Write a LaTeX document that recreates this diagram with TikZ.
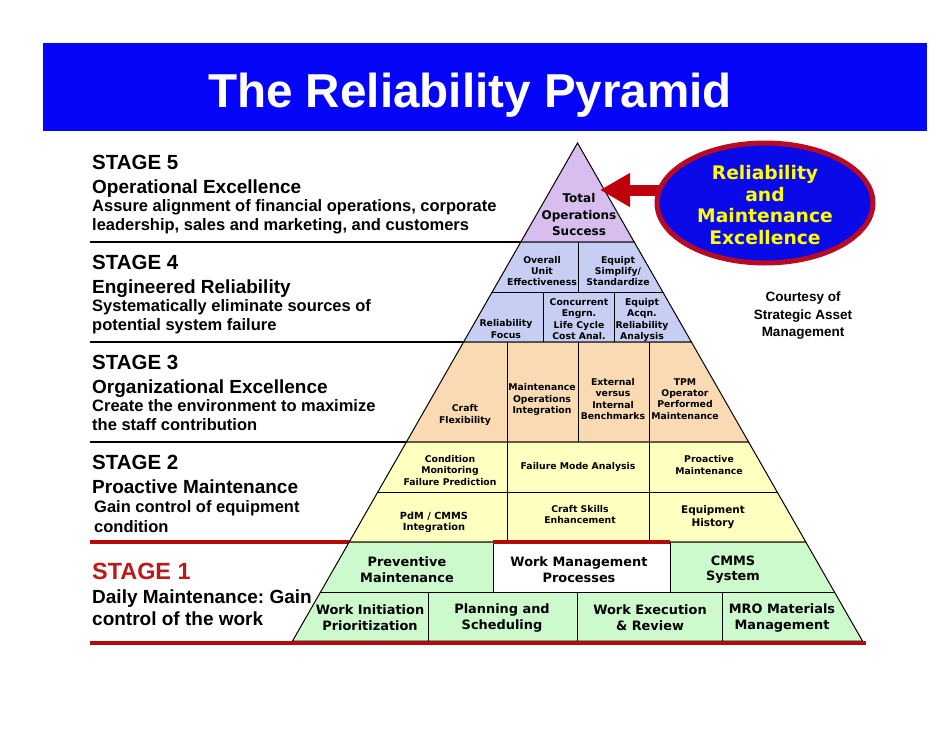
\documentclass[tikz,border=0pt]{standalone}
\usepackage{fontspec}
\setmainfont{Liberation Sans}
\newfontfamily\vfont{DejaVu Sans}
\usetikzlibrary{shapes.geometric,arrows.meta}
\frenchspacing
\definecolor{titleblue}{RGB}{5,5,250}
\definecolor{elblue}{RGB}{10,10,232}
\definecolor{elred}{RGB}{185,10,35}
\definecolor{arrred}{RGB}{190,0,10}
\definecolor{stred}{RGB}{190,25,25}
\definecolor{linered}{RGB}{180,10,10}
\definecolor{ctop}{RGB}{216,190,238}
\definecolor{cfour}{RGB}{198,206,244}
\definecolor{cthree}{RGB}{250,218,178}
\definecolor{ctwo}{RGB}{255,255,192}
\definecolor{cone}{RGB}{205,250,205}
\definecolor{elyellow}{RGB}{255,255,0}
\begin{document}
\begin{tikzpicture}[x=1pt,y=-1pt,
  stg/.style={anchor=base west, inner sep=0, font=\bfseries\fontsize{20.5}{24}\selectfont},
  sub/.style={anchor=base west, inner sep=0, font=\bfseries\fontsize{19}{22}\selectfont},
  desc/.style={anchor=base west, inner sep=0, font=\bfseries\fontsize{16.5}{19}\selectfont},
  cell/.style={align=center, inner sep=0, font=\vfont\bfseries\fontsize{9.3}{11.3}\selectfont},
  bigcell/.style={align=center, inner sep=0, font=\vfont\bfseries\fontsize{12.9}{15.8}\selectfont},
  pyline/.style={draw=black, line width=1pt},
  sepline/.style={draw=black, line width=1.3pt},
  redline/.style={draw=linered, line width=4pt}]
\useasboundingbox (0,0) rectangle (942,728);
\fill[white] (0,0) rectangle (942,728);

% title
\fill[titleblue] (43,43) rectangle (927,131);
\node[anchor=base, text=white, inner sep=0, font=\bfseries\fontsize{47.6}{50}\selectfont] (title) at (470,107) {The Reliability Pyramid};

% separator lines left
\draw[sepline] (90,242) -- (520.8,242);
\draw[sepline] (90,342) -- (463.6,342);
\draw[sepline] (90,442) -- (406.4,442);
\draw[redline] (90,542) -- (350,542);

% pyramid fills
\filldraw[pyline, fill=ctop] (577.5,143) -- (634.2,242) -- (520.8,242) -- cycle;
\filldraw[pyline, fill=cfour] (520.8,242) -- (634.2,242) -- (691.4,342) -- (463.6,342) -- cycle;
\filldraw[pyline, fill=cthree] (463.6,342) -- (691.4,342) -- (748.6,442) -- (406.4,442) -- cycle;
\filldraw[pyline, fill=ctwo] (406.4,442) -- (748.6,442) -- (805.8,542) -- (349.2,542) -- cycle;
\filldraw[pyline, fill=cone] (349.2,542) -- (805.8,542) -- (862.5,641) -- (292.5,641) -- cycle;
\filldraw[pyline, fill=white] (493,542) rectangle (670,592.5);

% row lines
\draw[pyline] (491.9,292.5) -- (663.1,292.5);
\draw[pyline] (377.8,492) -- (777.2,492);
\draw[pyline] (320.3,592.5) -- (834.7,592.5);
% vertical dividers
\draw[pyline] (578,242) -- (578,292.5);
\draw[pyline] (543,292.5) -- (543,342) (614,292.5) -- (614,342);
\draw[pyline] (507,342) -- (507,442) (578,342) -- (578,442) (649,342) -- (649,442);
\draw[pyline] (507,442) -- (507,542) (649,442) -- (649,542);
\draw[pyline] (428,592.5) -- (428,641) (577,592.5) -- (577,641) (722,592.5) -- (722,641);
\draw[redline] (493,542) -- (670,542);
\draw[redline] (90,643) -- (866,643);

% pyramid texts
\node[align=center, inner sep=0, font=\vfont\bfseries\fontsize{12}{16.5}\selectfont] (c5) at (579,215) {Total\\Operations\\Success};
\node[cell] (c41) at (542,271) {Overall\\Unit\\Effectiveness};
\node[cell] (c42) at (618,271) {Equipt\\Simplify/\\Standardize};
\node[cell] (c43) at (506,329) {Reliability\\Focus};
\node[cell] (c44) at (579,319) {Concurrent\\Engrn.\\Life Cycle\\Cost Anal.};
\node[cell] (c45) at (642,320) {Equipt\\Acqn.\\Reliability\\Analysis};
\node[cell] (c31) at (465,415) {Craft\\Flexibility};
\node[cell] (c32) at (542,399.5) {Maintenance\\Operations\\Integration};
\node[cell] (c33) at (613,399) {External\\versus\\Internal\\Benchmarks};
\node[cell] (c34) at (685,399) {TPM\\Operator\\Performed\\Maintenance};
\node[cell] (c21) at (450,470.5) {Condition\\Monitoring\\Failure Prediction};
\node[cell] (c22) at (578,467) {Failure Mode Analysis};
\node[cell] (c23) at (709,465) {Proactive\\Maintenance};
\node[cell, font=\vfont\bfseries\fontsize{9.8}{11.5}\selectfont] (c24) at (434,522.5) {PdM / CMMS\\Integration};
\node[cell] (c25) at (580,514.5) {Craft Skills\\Enhancement};
\node[cell, font=\vfont\bfseries\fontsize{10.5}{12.5}\selectfont] (c26) at (713,517) {Equipment\\History};
\node[bigcell] (c11) at (407,569.5) {Preventive\\Maintenance};
\node[bigcell] (c12) at (579,569.5) {Work Management\\Processes};
\node[bigcell] (c13) at (733,569.5) {CMMS\\System};
\node[bigcell] (c14) at (370,618) {Work Initiation\\Prioritization};
\node[bigcell] (c15) at (502,618) {Planning and\\Scheduling};
\node[bigcell] (c16) at (650,618) {Work Execution\\\& Review};
\node[bigcell] (c17) at (782,618) {MRO Materials\\Management};

% arrow and ellipse
\coordinate (arrS) at (664,190);
\coordinate (arrE) at (600,190);
\draw[arrred, line width=11pt, -{Triangle[length=30pt,width=32pt]}] (arrS) -- (arrE);
\node[ellipse, draw=elred, fill=elblue, line width=5pt, minimum width=216pt, minimum height=120pt, inner sep=0] (ell) at (765,203) {};
\node[align=center, inner sep=0, text=elyellow, font=\vfont\bfseries\fontsize{18.7}{21.7}\selectfont] (elltext) at (765,205) {Reliability\\and\\Maintenance\\Excellence};

% courtesy
\node[align=center, inner sep=0, font=\bfseries\fontsize{13.5}{17.5}\selectfont] (court) at (803,316) {Courtesy of\\Strategic Asset\\Management};

% left texts
\node[stg] (s5) at (92,169) {STAGE 5};
\node[sub] (s5a) at (92,193) {Operational Excellence};
\node[desc] (s5b) at (92,211) {Assure alignment of financial operations, corporate};
\node[desc] (s5c) at (92,230) {leadership, sales and marketing, and customers};

\node[stg] (s4) at (92,269) {STAGE 4};
\node[sub] (s4a) at (92,293) {Engineered Reliability};
\node[desc] (s4b) at (92,311) {Systematically eliminate sources of};
\node[desc] (s4c) at (92,330) {potential system failure};

\node[stg] (s3) at (92,369) {STAGE 3};
\node[sub] (s3a) at (92,393) {Organizational Excellence};
\node[desc] (s3b) at (92,411) {Create the environment to maximize};
\node[desc] (s3c) at (92,430) {the staff contribution};

\node[stg] (s2) at (92,469) {STAGE 2};
\node[sub] (s2a) at (92,493) {Proactive Maintenance};
\node[desc] (s2b) at (94,512.5) {Gain control of equipment};
\node[desc] (s2c) at (94,532.5) {condition};

\node[stg, text=stred, font=\bfseries\fontsize{23.4}{26}\selectfont] (s1) at (92,579) {STAGE 1};
\node[sub] (s1a) at (92,603) {Daily Maintenance: Gain};
\node[sub] (s1b) at (92,625) {control of the work};
\end{tikzpicture}
\end{document}
